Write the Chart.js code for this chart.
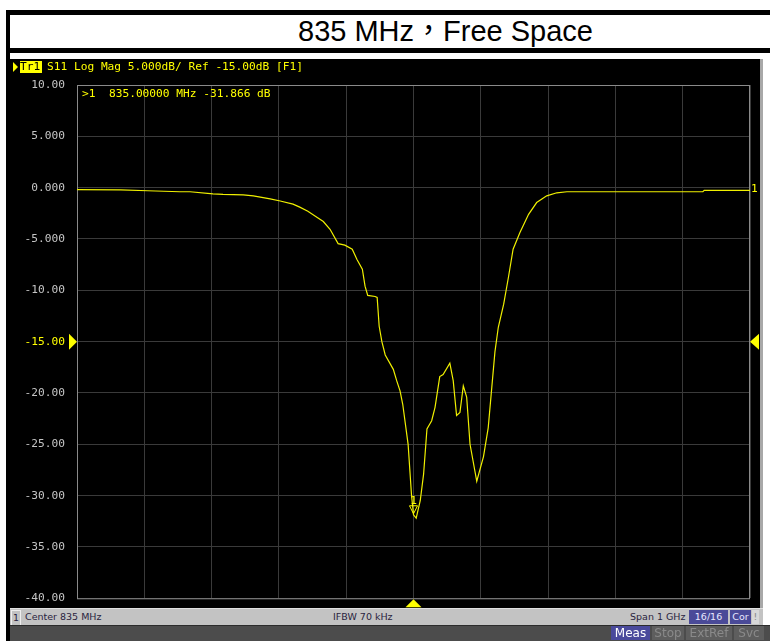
<!DOCTYPE html>
<html>
<head>
<meta charset="utf-8">
<script src="https://cdn.jsdelivr.net/npm/chart.js@4.4.0/dist/chart.umd.min.js"></script>
<style>
  html, body { margin: 0; padding: 0; background: #fff; }
  #page { position: relative; width: 770px; height: 641px; overflow: hidden; background: #fff; }
  .blk { position: absolute; background: #000; }
  #title {
    position: absolute; left: 298px; top: 15px; height: 33px;
    font-family: "Liberation Sans", Arial, "Noto Sans CJK TC", sans-serif;
    font-size: 29px; line-height: 33px; color: #000; white-space: nowrap;
  }
  #screen { position: absolute; left: 10px; top: 59px; width: 750px; height: 549px; background: #000; }
  #chart { position: absolute; left: 0; top: 0; }
  #edge { position: absolute; left: 760px; top: 59px; width: 3px; height: 566px; background: #a8a8a8; }
  #status {
    position: absolute; left: 10px; top: 608px; width: 753px; height: 17px; background: #c3c3c3;
    border-top: 1px solid #e0e0e0; box-sizing: border-box;
    font-family: "DejaVu Sans", sans-serif; font-size: 9.5px; color: #2a2440;
  }
  #status span, #bottom span { position: absolute; top: 1px; line-height: 14px; white-space: nowrap; }
  .box { box-sizing: border-box; text-align: center; }
  #bottom {
    position: absolute; left: 10px; top: 625px; width: 760px; height: 16px; background: #4c4c4c;
    border-top: 1px solid #2c2c2c; box-sizing: border-box;
    font-family: "DejaVu Sans", sans-serif; font-size: 12px;
  }
</style>
</head>
<body>
<div id="page">
  <div class="blk" style="left:6px; top:10px; width:764px; height:5px;"></div>
  <div class="blk" style="left:6px; top:10px; width:4px; height:631px;"></div>
  <div class="blk" style="left:10px; top:48px; width:760px; height:5px;"></div>
  <div id="title">835 MHz，Free Space</div>
  <div id="screen"><canvas id="chart" width="750" height="558"></canvas></div>
  <div id="edge"></div>
  <div id="status">
    <span class="box" style="left:1px; width:10px; border:1px solid #eee;">1</span>
    <span style="left:15px;">Center 835 MHz</span>
    <span style="left:323px;">IFBW 70 kHz</span>
    <span style="left:620px;">Span 1 GHz</span>
    <span class="box" style="left:679px; width:39px; background:#4a4a98; color:#e8e8ff;">16/16</span>
    <span class="box" style="left:720px; width:21px; background:#4a4a98; color:#e8e8ff;">Cor</span>
    <span class="box" style="left:742px; width:7px; background:#d8d8d8; color:#888;">!</span>
  </div>
  <div id="bottom">
    <span class="box" style="left:601px; width:39px; top:0; background:#4a4a9c; color:#fff;">Meas</span>
    <span class="box" style="left:642px; width:32px; top:0; background:#5e5e5e; color:#8a8a8a;">Stop</span>
    <span class="box" style="left:676px; width:46px; top:0; background:#5e5e5e; color:#8a8a8a;">ExtRef</span>
    <span class="box" style="left:724px; width:30px; top:0; background:#5e5e5e; color:#8a8a8a;">Svc</span>
  </div>
</div>
<script>
// S11 trace (frequency in MHz, magnitude in dB)
const freqMHz = [335, 400, 440, 488, 503, 537, 552, 582, 597, 622, 637, 656, 666, 678, 692, 701, 711, 723, 733,
  744, 751, 759, 763, 767, 778, 781, 784, 788, 793, 805, 810, 815, 819, 827, 832, 835, 839, 845, 850, 855,
  862, 867, 874, 879, 889, 894, 899, 904, 909, 914, 919, 929, 939, 946, 956, 961, 969, 976, 983, 993,
  1006, 1018, 1033, 1048, 1063, 1082, 1112, 1265, 1267, 1335];
const s11dB = [-0.2, -0.22, -0.3, -0.4, -0.4, -0.6, -0.65, -0.7, -0.8, -1.1, -1.3, -1.6, -1.9, -2.3, -2.9, -3.3, -4.05, -5.45, -5.6,
  -6.0, -7.0, -7.95, -9.6, -10.5, -10.6, -10.7, -13.5, -15.0, -16.3, -17.7, -18.8, -19.8, -21.1, -25.0, -29.9, -31.866, -32.2, -30.5, -27.9, -23.5,
  -22.7, -21.4, -18.4, -18.2, -17.1, -18.8, -22.2, -21.9, -19.3, -20.4, -25.0, -28.6, -26.2, -23.4, -16.0, -13.6, -11.35, -8.75, -6.0, -4.4,
  -2.6, -1.45, -0.8, -0.5, -0.4, -0.4, -0.4, -0.4, -0.27, -0.27];

const yTickValues = [10, 5, 0, -5, -10, -15, -20, -25, -30, -35, -40];
const yTickLabels = ['10.00', '5.000', '0.000', '-5.000', '-10.00', '-15.00', '-20.00', '-25.00', '-30.00', '-35.00', '-40.00'];

const markerFreq = 835;
const markerValue = -31.866;
const refLevel = -15;
const headerText = 'S11 Log Mag 5.000dB/ Ref -15.00dB [F1]';
const markerText = '>1  835.00000 MHz -31.866 dB';

const YELLOW = '#ffff00';
const MONO = '11.2px "DejaVu Sans Mono", monospace';

function tri(ctx, pts, fill) {
  ctx.beginPath();
  ctx.moveTo(pts[0][0], pts[0][1]);
  ctx.lineTo(pts[1][0], pts[1][1]);
  ctx.lineTo(pts[2][0], pts[2][1]);
  ctx.closePath();
  if (fill) ctx.fill(); else ctx.stroke();
}

const screenOverlay = {
  id: 'screenOverlay',
  beforeDatasetsDraw(chart) {
    const { ctx, chartArea: a } = chart;
    ctx.save();
    ctx.strokeStyle = '#8a8a8a';
    ctx.lineWidth = 1;
    ctx.strokeRect(a.left + 0.5, a.top + 0.5, a.right - a.left - 1, a.bottom - a.top);
    ctx.restore();
  },
  afterDraw(chart) {
    const { ctx, chartArea: a } = chart;
    const xs = chart.scales.x, ys = chart.scales.y;
    ctx.save();
    ctx.font = MONO;
    ctx.textBaseline = 'middle';

    // header line
    ctx.fillStyle = YELLOW;
    tri(ctx, [[3, 3], [8, 8], [3, 13]], true);
    ctx.fillRect(10, 2, 22, 12);
    ctx.fillStyle = '#000';
    ctx.fillText('Tr1', 10, 8.5);
    ctx.fillStyle = YELLOW;
    ctx.fillText(headerText, 37, 8.5);

    // marker readout
    ctx.fillText(markerText, a.left + 5, a.top + 9);

    // reference triangles
    const yr = ys.getPixelForValue(refLevel);
    tri(ctx, [[a.left - 8, yr - 8], [a.left, yr], [a.left - 8, yr + 8]], true);
    tri(ctx, [[a.right + 9, yr - 8], [a.right, yr], [a.right + 9, yr + 8]], true);

    // center/marker triangle at bottom
    const xm = xs.getPixelForValue(markerFreq);
    tri(ctx, [[xm - 8, a.bottom + 9], [xm, a.bottom + 1], [xm + 8, a.bottom + 9]], true);

    // marker symbol on trace
    const ym = ys.getPixelForValue(markerValue);
    ctx.strokeStyle = YELLOW;
    ctx.lineWidth = 1;
    tri(ctx, [[xm - 4, ym - 9], [xm + 4, ym - 9], [xm, ym - 1]], false);
    ctx.textAlign = 'center';
    ctx.fillText('1', xm, ym - 14);

    // trace end label
    ctx.textAlign = 'left';
    ctx.fillText('1', a.right + 1, ys.getPixelForValue(s11dB[s11dB.length - 1]) - 1);
    ctx.restore();
  }
};

new Chart(document.getElementById('chart'), {
  type: 'line',
  data: {
    datasets: [{
      data: freqMHz.map((f, i) => ({ x: f, y: s11dB[i] })),
      borderColor: '#f0f000',
      borderWidth: 1.2,
      pointRadius: 0,
      tension: 0,
      fill: false
    }]
  },
  options: {
    responsive: false,
    animation: false,
    layout: { padding: { top: 26, right: 10, bottom: 2, left: 0 } },
    plugins: { legend: { display: false }, tooltip: { enabled: false } },
    scales: {
      x: {
        type: 'linear', min: 335, max: 1335,
        afterFit: s => { s.height = 0; },
        ticks: { stepSize: 100, display: false },
        grid: { color: '#3a3a3a', drawTicks: false },
        border: { display: false }
      },
      y: {
        min: -40, max: 10,
        afterFit: s => { s.width = 67; },
        afterBuildTicks: s => { s.ticks = yTickValues.map(v => ({ value: v })); },
        ticks: {
          padding: 12,
          color: c => (c.tick && c.tick.value === refLevel ? YELLOW : '#c4c4c4'),
          font: { family: '"DejaVu Sans Mono", monospace', size: 11.2 },
          callback: v => yTickLabels[yTickValues.indexOf(v)]
        },
        grid: { color: '#3a3a3a', drawTicks: false },
        border: { display: false }
      }
    }
  },
  plugins: [screenOverlay]
});
</script>
</body>
</html>
